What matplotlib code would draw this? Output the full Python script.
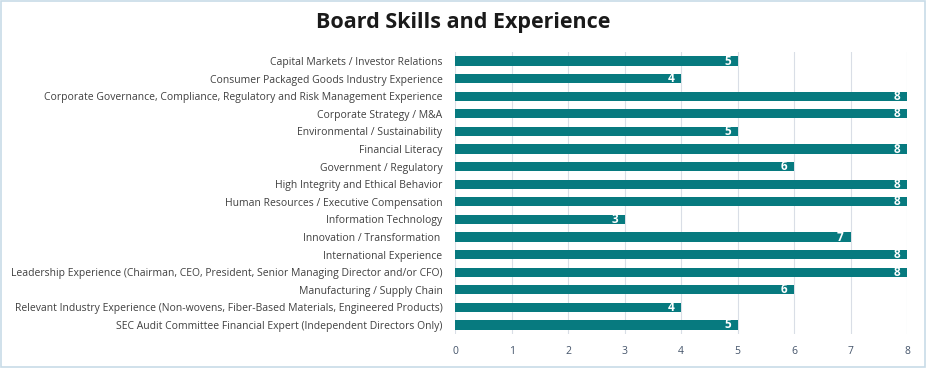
import matplotlib.pyplot as plt
from matplotlib.patches import Rectangle

plt.rcParams['font.family'] = ['Open Sans', 'DejaVu Sans']

skills = [
    "Capital Markets / Investor Relations",
    "Consumer Packaged Goods Industry Experience",
    "Corporate Governance, Compliance, Regulatory and Risk Management Experience",
    "Corporate Strategy / M&A",
    "Environmental / Sustainability",
    "Financial Literacy",
    "Government / Regulatory",
    "High Integrity and Ethical Behavior",
    "Human Resources / Executive Compensation",
    "Information Technology",
    "Innovation / Transformation ",
    "International Experience",
    "Leadership Experience (Chairman, CEO, President, Senior Managing Director and/or CFO)",
    "Manufacturing / Supply Chain",
    "Relevant Industry Experience (Non-wovens, Fiber-Based Materials, Engineered Products)",
    "SEC Audit Committee Financial Expert (Independent Directors Only)",
]
counts = [5, 4, 8, 8, 5, 8, 6, 8, 8, 3, 7, 8, 8, 6, 4, 5]
xticks = [0, 1, 2, 3, 4, 5, 6, 7, 8]

bar_color = '#077A7F'

fig = plt.figure(figsize=(9.26, 3.68), dpi=100)
ax = fig.add_axes([0.4914, 0.093, 0.4881, 0.765])

y = list(range(len(skills)))
ax.barh(y, counts, height=0.52, color=bar_color, zorder=2)
for yi, c in zip(y, counts):
    ax.text(c - 0.12, yi, str(c), ha='right', va='center', color='white',
            fontsize=8.5, fontweight='bold', zorder=3)

ax.set_yticks(y)
ax.set_yticklabels(skills, fontsize=7.5, color='#404040')
ax.set_ylim(len(skills) - 0.5, -0.5)
ax.set_xlim(0, 8)
ax.set_xticks(xticks)
ax.set_xticklabels([str(t) for t in xticks], fontsize=7.5, color='#44546A')
ax.tick_params(axis='both', length=0)
ax.tick_params(axis='x', pad=9)
ax.tick_params(axis='y', pad=9)
ax.grid(axis='x', color='#D9DEE6', linewidth=0.8, zorder=0)
for s in ax.spines.values():
    s.set_visible(False)

fig.text(0.5, 0.938, "Board Skills and Experience", ha='center', va='center',
         fontsize=15.5, fontweight='bold', color='#1a1a1a')

fig.patches.append(Rectangle((0.001, 0.002), 0.998, 0.996, transform=fig.transFigure,
                             fill=False, edgecolor='#C8DCE8', linewidth=1.2))

fig.savefig('out.png', dpi=100)
